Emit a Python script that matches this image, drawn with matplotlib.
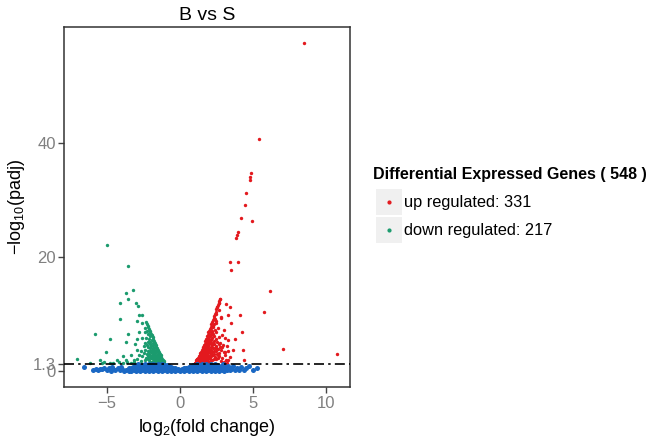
import matplotlib
matplotlib.use('Agg')
import matplotlib.pyplot as plt
from matplotlib.patches import Rectangle
from matplotlib.lines import Line2D

plt.rcParams['font.family'] = ['Liberation Sans', 'DejaVu Sans']
plt.rcParams['mathtext.default'] = 'regular'

# up regulated genes (log2 fold change, -log10 padj)
up_x = [
    8.48, 5.41, 4.89, 4.82, 4.77, 4.55, 4.43, 4.16, 4.91, 3.98,
    3.91, 3.86, 3.43, 3.95, 3.52, 6.16, 5.73, 7.07, 10.73,
    2.77, 2.68, 2.55, 3.14, 3.41, 2.68, 3.30, 4.09, 2.50, 2.39,
    2.84, 2.45, 2.27, 3.52, 4.27, 2.23, 3.30, 3.75, 3.64, 4.32,
    4.39, 2.95, 2.73, 2.50, 3.07, 3.41, 2.61, 2.27, 3.18,
    1.05, 1.05,
    1.10, 1.10, 1.10,
    1.15, 1.15, 1.15,
    1.20, 1.20, 1.20, 1.20,
    1.25, 1.25, 1.25,
    1.30, 1.30, 1.30, 1.30,
    1.35, 1.35, 1.35, 1.35,
    1.40, 1.40, 1.40, 1.40, 1.40,
    1.45, 1.45, 1.45, 1.45,
    1.50, 1.50, 1.50, 1.50, 1.50,
    1.55, 1.55, 1.55, 1.55, 1.55,
    1.60, 1.60, 1.60, 1.60, 1.60, 1.60,
    1.65, 1.65, 1.65, 1.65, 1.65,
    1.70, 1.70, 1.70, 1.70, 1.70,
    1.75, 1.75, 1.75, 1.75, 1.75, 1.75,
    1.80, 1.80, 1.80, 1.80, 1.80, 1.80,
    1.85, 1.85, 1.85, 1.85, 1.85, 1.85,
    1.90, 1.90, 1.90, 1.90, 1.90, 1.90, 1.90,
    1.95, 1.95, 1.95, 1.95, 1.95, 1.95,
    2.00, 2.00, 2.00, 2.00, 2.00, 2.00, 2.00,
    2.05, 2.05, 2.05, 2.05, 2.05,
    2.10, 2.10, 2.10, 2.10, 2.10, 2.10,
    2.15, 2.15, 2.15, 2.15, 2.15, 2.15,
    2.20, 2.20, 2.20, 2.20, 2.20, 2.20,
    2.25, 2.25, 2.25, 2.25, 2.25,
    2.30, 2.30, 2.30, 2.30, 2.30,
    2.35, 2.35, 2.35, 2.35,
    2.40, 2.40, 2.40, 2.40,
    2.45, 2.45, 2.45, 2.45,
    2.50, 2.50, 2.50, 2.50,
    2.55, 2.55, 2.55,
    2.60, 2.60, 2.60, 2.60,
    2.65, 2.65, 2.65,
    2.70, 2.70, 2.70,
    2.75, 2.75,
    2.80, 2.80, 2.80,
    2.90, 2.90, 2.90,
    3.00, 3.00, 3.00,
    3.10, 3.10,
    3.20, 3.20,
    3.30, 3.30,
]
up_y = [
    57.6, 40.7, 34.7, 34.1, 33.5, 31.3, 29.1, 26.8, 26.3, 24.4,
    23.9, 23.3, 19.2, 19.1, 17.7, 14.1, 10.4, 3.9, 3.0,
    12.6, 12.0, 11.3, 11.8, 11.3, 10.8, 9.8, 9.9, 10.1, 9.1,
    9.5, 8.4, 7.8, 8.4, 6.9, 6.9, 5.4, 5.6, 3.7, 3.7,
    1.9, 4.6, 4.3, 4.0, 3.4, 2.5, 2.8, 4.9, 1.9,
    1.4, 1.5,
    1.4, 1.7, 1.9,
    1.5, 1.8, 2.1,
    1.4, 1.6, 2.0, 2.2,
    1.5, 1.9, 2.4,
    1.4, 1.8, 2.2, 2.7,
    1.6, 2.1, 2.5, 2.9,
    1.4, 1.9, 2.4, 2.8, 3.2,
    1.7, 2.2, 2.7, 3.3,
    1.5, 2.0, 2.6, 3.1, 3.7,
    1.8, 2.4, 2.9, 3.5, 4.0,
    1.4, 2.1, 2.7, 3.3, 3.9, 4.3,
    1.6, 2.3, 3.0, 3.6, 4.6,
    1.9, 2.6, 3.4, 4.1, 4.8,
    1.5, 2.2, 3.0, 3.8, 4.5, 5.3,
    1.8, 2.5, 3.3, 4.2, 5.0, 5.7,
    2.0, 2.9, 3.7, 4.6, 5.4, 6.1,
    1.6, 2.4, 3.2, 4.0, 4.9, 5.8, 6.4,
    2.1, 3.5, 4.4, 5.3, 6.2, 6.8,
    1.7, 2.7, 3.9, 4.8, 5.7, 6.5, 7.1,
    2.3, 3.3, 5.1, 6.1, 7.4,
    1.9, 3.0, 4.3, 5.5, 6.8, 7.8,
    2.6, 3.7, 5.0, 6.4, 7.5, 8.2,
    2.0, 3.4, 4.6, 5.9, 7.1, 8.6,
    2.8, 4.1, 6.6, 7.9, 8.9,
    2.2, 3.6, 5.3, 8.3, 9.3,
    3.1, 4.8, 6.2, 9.6,
    2.5, 4.0, 7.3, 10.0,
    3.5, 5.6, 8.8, 10.4,
    2.1, 4.5, 6.9, 10.9,
    3.0, 5.2, 11.2,
    2.4, 3.9, 7.6, 11.6,
    4.7, 6.0, 12.0,
    2.7, 3.2, 12.3,
    5.0, 12.6,
    1.8, 3.8, 9.4,
    2.3, 4.2, 6.4,
    1.6, 3.3, 7.2,
    2.9, 5.8,
    1.5, 4.4,
    2.0, 3.6,
]

# down regulated genes
down_x = [
    -5.00, -3.52, -3.20, -3.70, -3.55, -4.09, -3.00, -2.82, -2.80, -2.57,
    -4.11, -2.91, -2.59, -5.80, -3.52, -2.77, -4.77, -3.64, -2.91, -5.02,
    -3.86, -3.36, -7.00, -5.45, -5.34, -4.77, -4.14, -3.70, -2.95, -3.05,
    -6.10, -5.20, -4.55, -4.30, -3.90, -3.60, -3.30, -3.10,
    -1.05,
    -1.10, -1.10,
    -1.15, -1.15,
    -1.20, -1.20,
    -1.25, -1.25, -1.25,
    -1.30, -1.30, -1.30,
    -1.35, -1.35, -1.35, -1.35,
    -1.40, -1.40, -1.40,
    -1.45, -1.45, -1.45, -1.45,
    -1.50, -1.50, -1.50, -1.50,
    -1.55, -1.55, -1.55, -1.55,
    -1.60, -1.60, -1.60, -1.60,
    -1.65, -1.65, -1.65, -1.65,
    -1.70, -1.70, -1.70, -1.70, -1.70,
    -1.75, -1.75, -1.75, -1.75,
    -1.80, -1.80, -1.80, -1.80, -1.80,
    -1.85, -1.85, -1.85, -1.85, -1.85,
    -1.90, -1.90, -1.90, -1.90, -1.90,
    -1.95, -1.95, -1.95, -1.95,
    -2.00, -2.00, -2.00, -2.00, -2.00,
    -2.05, -2.05, -2.05, -2.05, -2.05,
    -2.10, -2.10, -2.10, -2.10,
    -2.15, -2.15, -2.15, -2.15,
    -2.20, -2.20, -2.20, -2.20,
    -2.25, -2.25, -2.25, -2.25,
    -2.30, -2.30, -2.30,
    -2.35, -2.35,
    -2.40, -2.40, -2.40,
    -2.45, -2.45,
    -2.55, -2.55,
    -2.65, -2.65,
    -2.75,
    -2.90,
    -3.10,
]
down_y = [
    22.2, 18.5, 14.3, 13.7, 12.7, 11.9, 12.0, 11.4, 9.9, 9.9,
    9.1, 8.8, 8.5, 6.6, 6.6, 6.9, 5.7, 5.1, 5.6, 3.4,
    2.7, 2.9, 2.2, 2.0, 1.5, 1.4, 1.6, 1.9, 3.7, 4.7,
    1.5, 1.7, 1.5, 1.9, 1.5, 1.7, 1.45, 2.0,
    1.4,
    1.5, 1.8,
    1.4, 2.0,
    1.6, 2.2,
    1.4, 1.9, 2.5,
    1.7, 2.3, 2.8,
    1.5, 2.0, 2.6, 3.0,
    1.8, 2.4, 3.2,
    1.4, 2.1, 2.8, 3.4,
    1.7, 2.5, 3.1, 3.7,
    2.0, 2.9, 3.5, 4.0,
    1.5, 2.3, 3.3, 4.2,
    1.9, 2.7, 3.8, 4.6,
    1.6, 2.4, 3.2, 4.3, 5.0,
    2.0, 2.9, 3.7, 5.3,
    1.5, 2.5, 3.4, 4.6, 5.7,
    2.1, 3.0, 4.0, 5.0, 6.0,
    1.7, 2.7, 3.7, 5.5, 6.3,
    2.3, 3.3, 4.4, 6.6,
    1.6, 2.9, 4.0, 5.2, 6.9,
    2.5, 3.6, 4.8, 6.1, 7.1,
    1.9, 3.1, 5.7, 7.4,
    2.7, 4.3, 6.5, 7.7,
    2.1, 3.5, 5.2, 8.0,
    3.0, 4.6, 7.0, 8.3,
    2.4, 5.9, 8.6,
    3.8, 7.6,
    2.0, 5.0, 6.8,
    3.2, 4.4,
    2.6, 5.8,
    1.8, 3.6,
    2.9,
    2.2,
    1.6,
]

# not significant genes
nosig_x = [
    -6.55, -5.90, -5.75, -5.60, -5.45, -5.30, -5.15, -5.00, -4.85, -4.70,
    -4.55, -4.40, -4.25, -4.10, -3.95, -3.80, -3.65, -3.50, -3.45, -4.00, -4.60,
    3.30, 3.50, 3.60, 3.75, 3.90, 4.05, 4.20, 4.35, 4.50, 4.70, 5.00, 5.30, 2.95,
    -3.30, -3.30,
    -3.15, -3.15,
    -3.00, -3.00, -3.00,
    -2.85, -2.85, -2.85,
    -2.70, -2.70, -2.70,
    -2.55, -2.55, -2.55,
    -2.40, -2.40, -2.40, -2.40,
    -2.25, -2.25, -2.25,
    -2.10, -2.10, -2.10, -2.10,
    -1.95, -1.95, -1.95,
    -1.80, -1.80, -1.80, -1.80,
    -1.65, -1.65, -1.65,
    -1.50, -1.50, -1.50, -1.50,
    -1.35, -1.35, -1.35,
    -1.20, -1.20, -1.20, -1.20,
    -1.05, -1.05, -1.05,
    -0.90, -0.90, -0.90, -0.90,
    -0.75, -0.75, -0.75,
    -0.60, -0.60, -0.60,
    -0.45, -0.45, -0.45,
    -0.30, -0.30, -0.30,
    -0.15, -0.15,
    0.00, 0.00,
    0.15, 0.15,
    0.30, 0.30, 0.30,
    0.45, 0.45, 0.45,
    0.60, 0.60, 0.60,
    0.75, 0.75, 0.75,
    0.90, 0.90, 0.90, 0.90,
    1.05, 1.05, 1.05,
    1.20, 1.20, 1.20, 1.20,
    1.35, 1.35, 1.35,
    1.50, 1.50, 1.50, 1.50,
    1.65, 1.65, 1.65,
    1.80, 1.80, 1.80, 1.80,
    1.95, 1.95, 1.95,
    2.10, 2.10, 2.10, 2.10,
    2.25, 2.25, 2.25,
    2.40, 2.40, 2.40, 2.40,
    2.55, 2.55, 2.55,
    2.70, 2.70, 2.70,
    2.85, 2.85,
    3.00, 3.00, 3.00,
    3.20, 3.20,
    3.40, 3.40,
]
nosig_y = [
    0.75, 0.30, 0.40, 0.25, 0.45, 0.35, 0.60, 0.20, 0.50, 0.10,
    0.35, 0.20, 0.55, 0.15, 0.40, 0.10, 0.30, 0.60, 0.05, 0.80, 0.75,
    0.90, 0.40, 1.00, 0.20, 0.60, 0.30, 0.80, 0.15, 0.50, 0.95, 0.30, 0.65, 1.20,
    0.10, 0.60,
    0.30, 0.90,
    0.05, 0.50, 1.10,
    0.25, 0.75, 1.20,
    0.05, 0.45, 0.95,
    0.20, 0.70, 1.15,
    0.05, 0.40, 0.85, 1.25,
    0.20, 0.60, 1.05,
    0.05, 0.40, 0.80, 1.20,
    0.20, 0.60, 1.00,
    0.05, 0.40, 0.80, 1.25,
    0.20, 0.60, 1.05,
    0.05, 0.40, 0.85, 1.20,
    0.20, 0.65, 1.05,
    0.05, 0.45, 0.85, 1.25,
    0.20, 0.60, 1.05,
    0.05, 0.40, 0.80, 1.10,
    0.20, 0.55, 0.90,
    0.05, 0.35, 0.70,
    0.15, 0.45, 0.60,
    0.05, 0.30, 0.50,
    0.15, 0.40,
    0.05, 0.30,
    0.15, 0.40,
    0.05, 0.30, 0.50,
    0.15, 0.45, 0.60,
    0.05, 0.35, 0.70,
    0.20, 0.55, 0.90,
    0.05, 0.40, 0.80, 1.10,
    0.20, 0.60, 1.05,
    0.05, 0.45, 0.85, 1.25,
    0.20, 0.65, 1.05,
    0.05, 0.40, 0.85, 1.20,
    0.20, 0.60, 1.05,
    0.05, 0.40, 0.80, 1.25,
    0.20, 0.60, 1.00,
    0.05, 0.40, 0.80, 1.20,
    0.20, 0.60, 1.05,
    0.05, 0.40, 0.85, 1.25,
    0.20, 0.70, 1.15,
    0.05, 0.45, 0.95,
    0.25, 0.75,
    0.10, 0.50, 1.00,
    0.30, 0.80,
    0.15, 0.60,
]

x_ticks = [-5, 0, 5, 10]
x_tick_labels = ['\u22125', '0', '5', '10']
y_ticks = [0, 1.3, 20, 40]
y_tick_labels = ['0', '1.3', '20', '40']
padj_cut = 1.3

red = '#E3191E'
green = '#1B9B6E'
blue = '#1A68C4'

fig = plt.figure(figsize=(6.6, 4.4), dpi=100)
ax = fig.add_axes([0.097, 0.120, 0.433, 0.819])

ax.scatter(up_x, up_y, s=6, color=red, linewidths=0, zorder=2)
ax.scatter(down_x, down_y, s=6, color=green, linewidths=0, zorder=2)
ax.scatter(nosig_x, nosig_y, s=13, color=blue, linewidths=0, zorder=3)
ax.axhline(padj_cut, color='black', lw=1.2, ls=(0, (6, 2.5, 1.5, 2.5)), zorder=4)

ax.set_xlim(-7.9, 11.6)
ax.set_ylim(-2.8, 60.4)
ax.set_xticks(x_ticks)
ax.set_xticklabels(x_tick_labels)
ax.set_yticks(y_ticks)
ax.set_yticklabels(y_tick_labels)
ax.tick_params(direction='out', length=4, width=1, color='#444444',
               labelcolor='#808080', labelsize=12, pad=2)
for sp in ax.spines.values():
    sp.set_color('#333333')
    sp.set_linewidth(1.1)

ax.set_xlabel('log$_2$(fold change)', fontsize=13, labelpad=5)
ax.set_ylabel('\u2212log$_{10}$(padj)', fontsize=13, labelpad=4)
ax.set_title('B vs S', fontsize=14, pad=5)

# legend, drawn by hand to the right
fig.text(373 / 660, 1 - 175 / 440, 'Differential Expressed Genes ( 548 )',
         fontsize=11.5, fontweight='bold', va='center', ha='left')
labels = ['up regulated: 331', 'down regulated: 217']
colors = [red, green]
for i, (lab, col) in enumerate(zip(labels, colors)):
    yc = 1 - (202 + i * 28) / 440
    fig.add_artist(Rectangle((376 / 660, yc - 13 / 440), 26 / 660, 26 / 440,
                             transform=fig.transFigure, facecolor='#F0F0F0',
                             edgecolor='none'))
    fig.add_artist(Line2D([389 / 660], [yc], marker='o', markersize=2,
                          color=col, linestyle='none', transform=fig.transFigure))
    fig.text(404 / 660, yc, lab, fontsize=11.8, va='center', ha='left')

fig.savefig('out.png', dpi=100, facecolor='white')
